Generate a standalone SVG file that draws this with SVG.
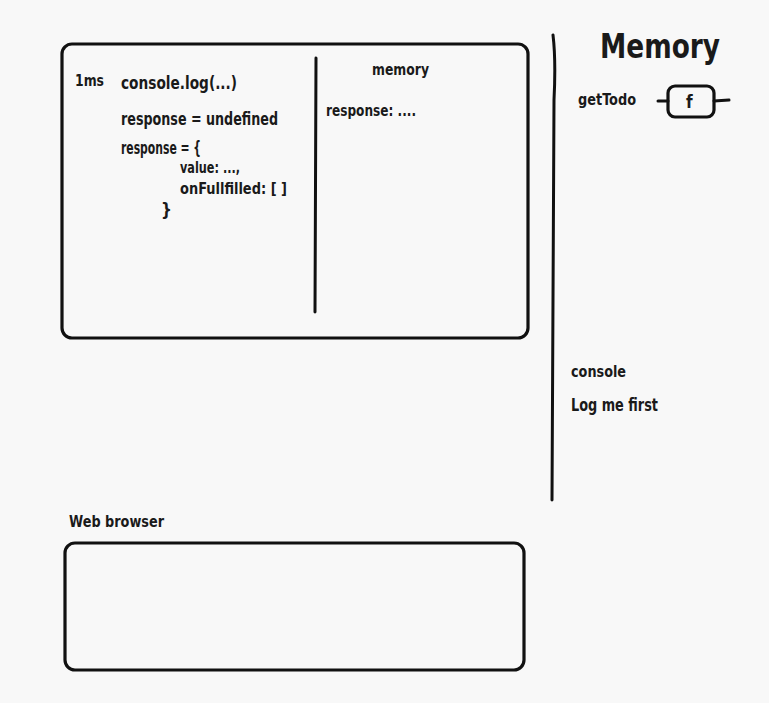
<svg xmlns="http://www.w3.org/2000/svg" width="769" height="703" viewBox="0 0 769 703">
<style>
.t{font-family:"DejaVu Sans Condensed","Liberation Sans",sans-serif;font-weight:bold;fill:#1a1a1a}
.box{fill:none;stroke:#111;stroke-width:3.2;stroke-linecap:round}
.ln{fill:none;stroke:#111;stroke-width:3;stroke-linecap:round}
</style>
<rect width="769" height="703" fill="#f8f8f8"/>
<g id="callstack">
<rect class="box" x="62" y="44" width="466" height="294" rx="10"/>
<text class="t" x="75" y="86" font-size="15" textLength="29" lengthAdjust="spacingAndGlyphs">1ms</text>
<text class="t" x="121" y="89" font-size="17" textLength="116" lengthAdjust="spacingAndGlyphs">console.log(...)</text>
<text class="t" x="121" y="125" font-size="17" textLength="157" lengthAdjust="spacingAndGlyphs">response = undefined</text>
<text class="t" x="121" y="154" font-size="17" textLength="80" lengthAdjust="spacingAndGlyphs">response = {</text>
<text class="t" x="180" y="173" font-size="16" textLength="60" lengthAdjust="spacingAndGlyphs">value: ...,</text>
<text class="t" x="180" y="194" font-size="16" textLength="107" lengthAdjust="spacingAndGlyphs">onFullfilled: [ ]</text>
<text class="t" x="161" y="216" font-size="17">}</text>
</g>
<g id="memory-panel">
<path class="ln" d="M316 58 Q315 180 315 312"/>
<text class="t" x="372" y="75" font-size="15" textLength="57" lengthAdjust="spacingAndGlyphs">memory</text>
<text class="t" x="326" y="116" font-size="16" textLength="90" lengthAdjust="spacingAndGlyphs">response: ....</text>
</g>
<g id="divider">
<path class="ln" d="M553 35 Q556 60 554 100 L552 500"/>
</g>
<g id="memory">
<text class="t" x="600" y="58" font-size="34" textLength="120" lengthAdjust="spacingAndGlyphs">Memory</text>
<text class="t" x="578" y="105" font-size="16" textLength="58" lengthAdjust="spacingAndGlyphs">getTodo</text>
<rect class="box" x="668" y="86" width="46" height="31" rx="7"/>
<text class="t" x="686" y="108" font-size="17">f</text>
<path class="ln" d="M658 101 L668 101 M714 101 L729 100" stroke-width="4"/>
</g>
<g id="console">
<text class="t" x="571" y="377" font-size="16" textLength="55" lengthAdjust="spacingAndGlyphs">console</text>
<text class="t" x="571" y="411" font-size="17" textLength="87" lengthAdjust="spacingAndGlyphs">Log me first</text>
</g>
<g id="webbrowser">
<text class="t" x="69" y="527" font-size="16" textLength="95" lengthAdjust="spacingAndGlyphs">Web browser</text>
<rect class="box" x="65" y="543" width="459" height="127" rx="10"/>
</g>
</svg>
